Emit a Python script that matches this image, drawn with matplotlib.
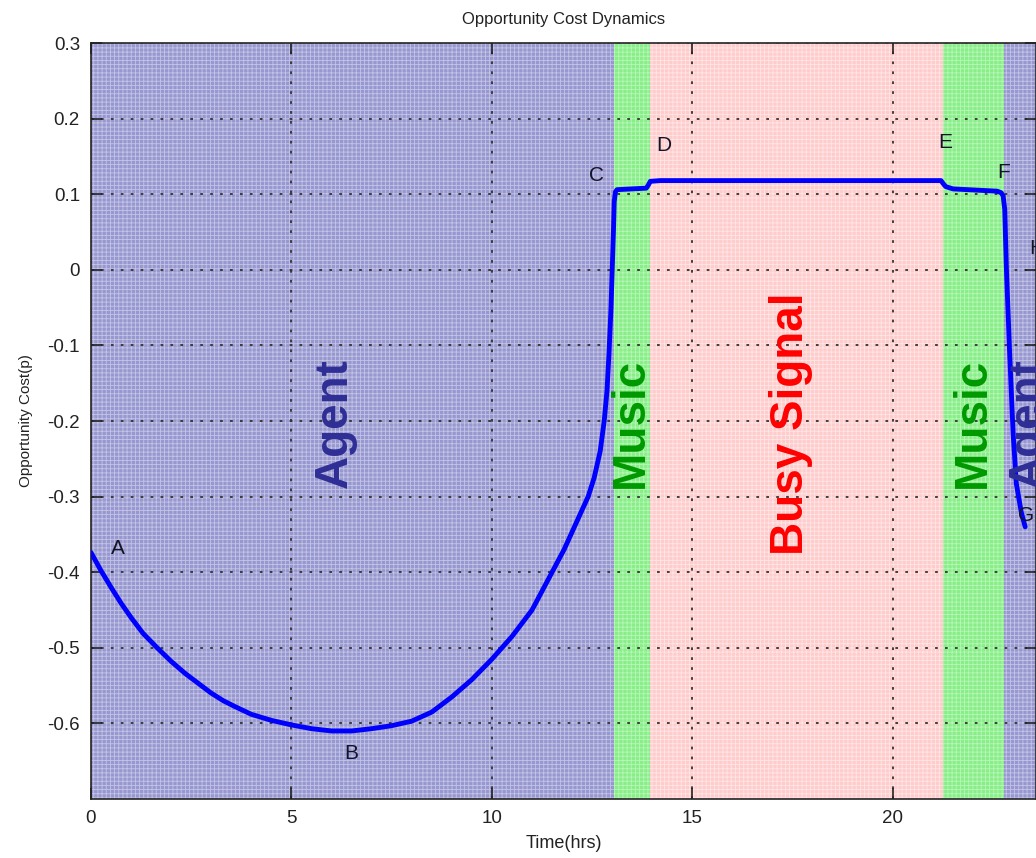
import matplotlib.pyplot as plt
import numpy as np

plt.rcParams['font.family'] = ['Liberation Sans', 'DejaVu Sans']

# =========================
# Data
# =========================
t = [0.0, 0.25, 0.5, 0.75, 1.0, 1.3, 1.65, 2.0, 2.35, 2.7, 3.0, 3.3, 3.6, 4.0,
     4.5, 5.0, 5.5, 6.0, 6.5, 7.0, 7.5, 8.0, 8.5, 9.0, 9.5, 10.0, 10.5,
     11.0, 11.5, 11.8, 12.1, 12.4, 12.55, 12.7, 12.8, 12.87, 12.92, 12.97,
     13.0, 13.03, 13.05, 13.08, 13.12, 13.85, 13.9, 13.95, 14.2, 21.2,
     21.27, 21.32, 21.5, 22.6, 22.7, 22.75, 22.79, 22.83, 22.91, 23.0,
     23.08, 23.2, 23.3]
cost = [-0.374, -0.398, -0.42, -0.441, -0.46, -0.481, -0.50, -0.518, -0.534,
        -0.548, -0.56, -0.57, -0.578, -0.588, -0.596, -0.602, -0.607, -0.61,
        -0.61, -0.607, -0.603, -0.597, -0.585, -0.565, -0.542, -0.515, -0.485,
        -0.45, -0.40, -0.37, -0.335, -0.30, -0.275, -0.24, -0.20, -0.16,
        -0.11, -0.05, 0.0, 0.05, 0.09, 0.103, 0.106, 0.108, 0.112, 0.117,
        0.118, 0.118, 0.113, 0.110, 0.107, 0.104, 0.102, 0.098, 0.08, 0.004,
        -0.107, -0.217, -0.283, -0.32, -0.34]

# phases
phase_start = [0.0, 13.05, 13.93, 21.25, 22.77]
phase_end = [13.05, 13.93, 21.25, 22.77, 23.6]
phase_kind = ["Agent", "Music", "Busy", "Music", "Agent"]

# point labels
pt_names = ["A", "B", "C", "D", "E", "F", "G", "H"]
pt_t = [0.67, 6.5, 12.62, 14.28, 21.3, 22.77, 23.31, 23.4]
pt_v = [-0.368, -0.64, 0.125, 0.165, 0.169, 0.129, -0.325, 0.028]

# big phase labels
big_text = ["Agent", "Music", "Busy Signal", "Music", "Agent"]
big_t = [6.09, 13.46, 17.46, 21.99, 23.4]

bg_colors = {"Agent": "#9898d0", "Music": "#88ee88", "Busy": "#ffcccc"}
hatch_colors = {"Agent": "#c4c4e6", "Music": "#b8f6b8", "Busy": "#ffe6e6"}
txt_colors = {"Agent": "#2e2e96", "Music": "#009900", "Busy": "#ff0000"}

# =========================
# Plot
# =========================
fig = plt.figure(figsize=(10.36, 8.58), dpi=100)
ax = fig.add_axes([91 / 1036, 1 - 799 / 858, (1036 - 91) / 1036, (799 - 43) / 858])

plt.rcParams['hatch.linewidth'] = 0.6
for s, e, k in zip(phase_start, phase_end, phase_kind):
    ax.axvspan(s, e, facecolor=bg_colors[k], edgecolor=hatch_colors[k],
               hatch="++++", linewidth=0, zorder=0)

ax.plot(t, cost, color="#0000ff", linewidth=3.5, solid_capstyle="round",
        solid_joinstyle="round", zorder=3)

for name, x, y in zip(pt_names, pt_t, pt_v):
    ha = "left" if name == "H" else "center"
    ax.text(x, y, name, fontsize=15, color="#141428", ha=ha, va="center", zorder=4)

for label, x, k in zip(big_text, big_t, phase_kind):
    ax.text(x, -0.203, label, rotation=90, fontsize=33, fontweight="bold",
            color=txt_colors[k], ha="center", va="center", zorder=4)

ax.set_xlim(0, 23.57)
ax.set_ylim(-0.7, 0.3)
ax.set_xticks([0, 5, 10, 15, 20])
ax.set_yticks([-0.6, -0.5, -0.4, -0.3, -0.2, -0.1, 0, 0.1, 0.2, 0.3])
ax.set_yticklabels(["-0.6", "-0.5", "-0.4", "-0.3", "-0.2", "-0.1", "0", "0.1", "0.2", "0.3"])
ax.tick_params(direction="in", length=8, width=1.2, labelsize=13.5,
               colors="#222222", top=True, right=True, pad=8)
ax.grid(True, color="#333333", linestyle=(0, (1.5, 4)), linewidth=1.3)
ax.set_axisbelow(False)
for sp in ax.spines.values():
    sp.set_color("#222222")
    sp.set_linewidth(1.2)

ax.set_title("Opportunity Cost Dynamics", fontsize=12, color="#222222", pad=14)
ax.set_xlabel("Time(hrs)", fontsize=13, color="#222222", labelpad=6)
ax.set_ylabel("Opportunity Cost(p)", fontsize=11, color="#222222", labelpad=10)

plt.savefig("out.png", dpi=100)
